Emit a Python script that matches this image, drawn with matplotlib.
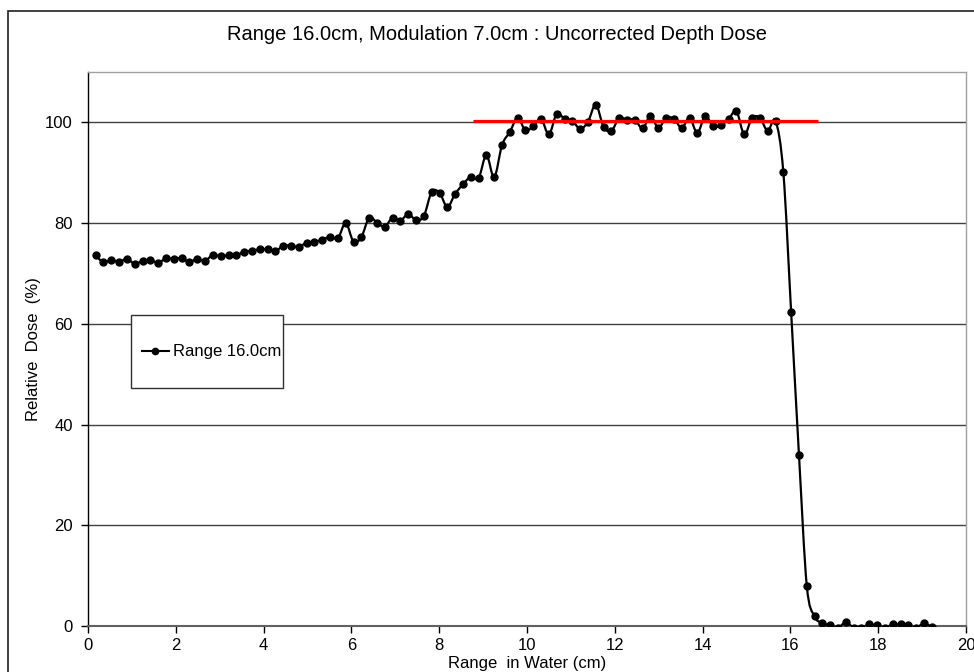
import matplotlib
matplotlib.use("Agg")
import matplotlib.pyplot as plt
from matplotlib.path import Path
from matplotlib.patches import PathPatch, Rectangle
from matplotlib.lines import Line2D
import numpy as np

plt.rcParams['font.family'] = ['Liberation Sans', 'DejaVu Sans']

# ---- data ----
depth_cm = [0.175, 0.353, 0.531, 0.709, 0.887, 1.065, 1.243, 1.421, 1.599, 1.777,
            1.955, 2.133, 2.311, 2.489, 2.667, 2.845, 3.023, 3.201, 3.379, 3.557,
            3.735, 3.913, 4.091, 4.269, 4.447, 4.625, 4.803, 4.981, 5.159, 5.337,
            5.515, 5.693, 5.871, 6.049, 6.227, 6.405, 6.583, 6.761, 6.939, 7.117,
            7.295, 7.473, 7.651, 7.829, 8.007, 8.185, 8.363, 8.541, 8.719, 8.897,
            9.075, 9.253, 9.431, 9.609, 9.787, 9.965, 10.143, 10.321, 10.499, 10.677,
            10.855, 11.033, 11.211, 11.389, 11.567, 11.745, 11.923, 12.101, 12.279, 12.457,
            12.635, 12.813, 12.991, 13.169, 13.347, 13.525, 13.703, 13.881, 14.059, 14.237,
            14.415, 14.593, 14.771, 14.949, 15.127, 15.305, 15.483, 15.661, 15.839, 16.017,
            16.195, 16.373, 16.551, 16.729, 16.907, 17.085, 17.263, 17.441, 17.619, 17.797,
            17.975, 18.153, 18.331, 18.509, 18.687, 18.865, 19.043, 19.221]
dose_pct = [73.6, 72.2, 72.7, 72.3, 72.9, 71.9, 72.5, 72.7, 72.1, 73.0,
            72.9, 73.0, 72.3, 72.9, 72.5, 73.7, 73.4, 73.6, 73.6, 74.3,
            74.5, 74.8, 74.8, 74.4, 75.5, 75.5, 75.3, 76.1, 76.3, 76.7,
            77.3, 77.0, 80.0, 76.3, 77.2, 81.1, 80.1, 79.3, 81.1, 80.5,
            81.8, 80.6, 81.4, 86.2, 86.0, 83.2, 85.8, 87.7, 89.2, 88.9,
            93.5, 89.1, 95.5, 98.1, 100.9, 98.4, 99.2, 100.7, 97.6, 101.7,
            100.7, 100.3, 98.7, 100.1, 103.5, 99.1, 98.3, 100.9, 100.5, 100.5,
            98.8, 101.3, 98.9, 100.9, 100.7, 98.9, 100.9, 97.9, 101.3, 99.2,
            99.4, 100.7, 102.2, 97.6, 100.9, 100.9, 98.3, 100.3, 90.1, 62.3,
            34.0, 8.0, 1.9, 0.6, 0.1, -0.3, 0.7, -0.3, -0.3, 0.3,
            0.1, -0.3, 0.3, 0.3, 0.1, -0.3, 0.5, -0.2]
plateau_x = [8.78, 16.63]
plateau_y = [100.2, 100.2]

series_label = "Range 16.0cm"
title = "Range 16.0cm, Modulation 7.0cm : Uncorrected Depth Dose"
xlabel = "Range  in Water (cm)"
ylabel = "Relative  Dose  (%)"

W, H = 974, 672
fig = plt.figure(figsize=(W / 100, H / 100), dpi=100)

# outer chart border (cropped at right/bottom)
fig.patches.append(Rectangle((8 / W, -0.1), 1.2, 1 - 11 / H + 0.1, transform=fig.transFigure,
                             fill=False, edgecolor='#202020', linewidth=1.2))

ax = fig.add_axes([88 / W, 1 - 626 / H, (966 - 88) / W, (626 - 72) / H])
ax.set_xlim(0, 20)
ax.set_ylim(0, 110)
ax.set_xticks(range(0, 21, 2))
ax.set_yticks(range(0, 101, 20))

for s in ['top', 'right']:
    ax.spines[s].set_color('#a0a0a0')
    ax.spines[s].set_linewidth(1.0)
ax.spines['left'].set_color('black')
ax.spines['left'].set_linewidth(1.0)
ax.spines['bottom'].set_color('#606060')
ax.spines['bottom'].set_linewidth(1.5)

ax.yaxis.grid(True, color='#404040', linewidth=1.0)
ax.set_axisbelow(True)
ax.tick_params(axis='both', direction='out', length=5, width=1, labelsize=12, colors='black')
ax.tick_params(axis='y', pad=6)
ax.tick_params(axis='x', pad=4)

# smoothed line (Bezier through points, like a spreadsheet "smoothed line")
pts = np.column_stack([depth_cm, dose_pct])
n = len(pts)
verts = [pts[0]]
codes = [Path.MOVETO]
for i in range(n - 1):
    p0 = pts[max(i - 1, 0)]
    p1 = pts[i]
    p2 = pts[i + 1]
    p3 = pts[min(i + 2, n - 1)]
    c1 = p1 + (p2 - p0) / 6.0
    c2 = p2 - (p3 - p1) / 6.0
    verts += [c1, c2, p2]
    codes += [Path.CURVE4] * 3
ax.add_patch(PathPatch(Path(verts, codes), fill=False, edgecolor='black', linewidth=1.6, zorder=3))
ax.plot(depth_cm, dose_pct, linestyle='none', marker='o', markersize=5.0,
        color='black', zorder=4, clip_on=True)

ax.plot(plateau_x, plateau_y, color='#ff0000', linewidth=2.3, zorder=5, solid_capstyle='butt')

# legend box
ax.add_patch(Rectangle(((131 - 88) / 878, (626 - 388) / 554), 152 / 878, 73 / 554,
                       transform=ax.transAxes, facecolor='white', edgecolor='#303030',
                       linewidth=1.0, zorder=6))
handle = Line2D([], [], color='black', marker='o', markersize=4.5, linewidth=1.5)
leg = ax.legend([handle], [series_label], loc='center left',
                bbox_to_anchor=(0.0615, 0.4946), frameon=False, fontsize=12,
                borderpad=0, borderaxespad=0, handlelength=1.6, handletextpad=0.25)
leg.set_zorder(7)

fig.text(497 / W, 1 - 35 / H, title, ha='center', va='center', fontsize=14.5)
ax.set_xlabel(xlabel, fontsize=12, labelpad=2)
ax.set_ylabel(ylabel, fontsize=12, labelpad=3)

fig.savefig("out.png", dpi=100)
